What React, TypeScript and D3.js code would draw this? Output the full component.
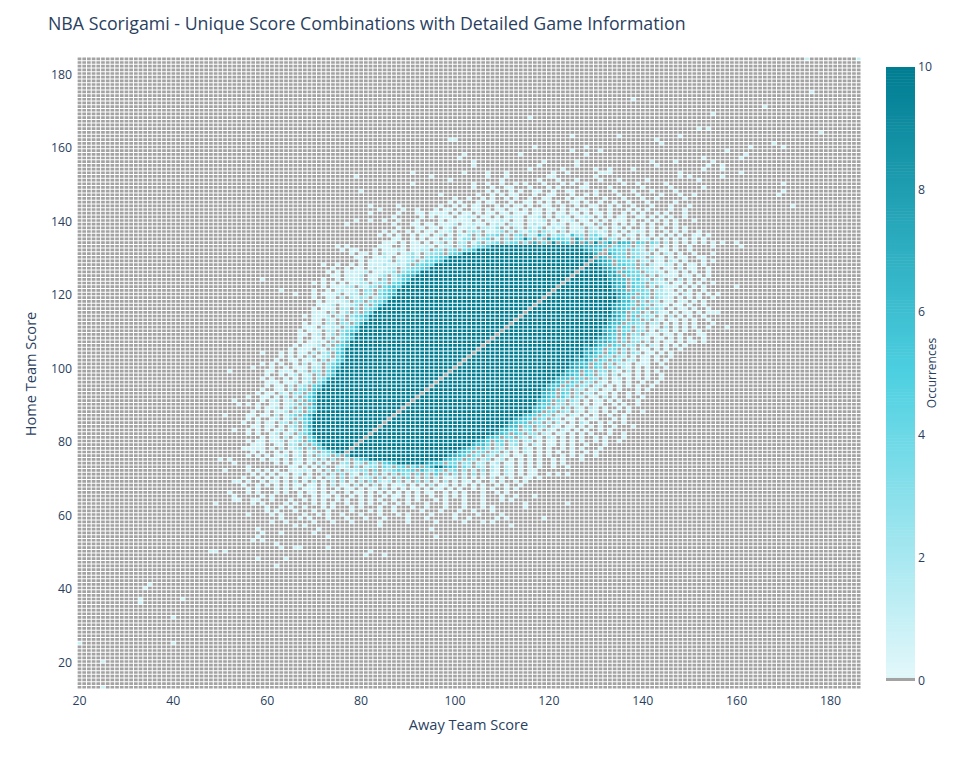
import React from "react";
import * as d3 from "d3";

const chartTitle = "NBA Scorigami - Unique Score Combinations with Detailed Game Information";
const xTitle = "Away Team Score";
const yTitle = "Home Team Score";
const barTitle = "Occurrences";
const xTicks = [20, 40, 60, 80, 100, 120, 140, 160, 180];
const yTicks = [20, 40, 60, 80, 100, 120, 140, 160, 180];
const barTicks = [0, 2, 4, 6, 8, 10];
const awayMin = 20, awayMax = 186, homeMin = 13, homeMax = 184;
const maxCount = 10;

// Single games far from the main cloud: [home score, away scores]
const sparseRows: [number, number[]][] = [
  [184, [175, 186]], [175, [176]], [173, [138]], [171, [166]], [169, [155]], [168, [116]], [165, [152, 154]], [164, [178]],
  [163, [125, 135, 148]], [162, [99, 100, 143]], [161, [144, 168]], [160, [117, 128, 163, 170]], [159, [125, 131, 158]],
  [158, [102, 114, 128, 162]], [157, [101, 153, 161]], [156, [104, 119, 126, 142, 147, 155]], [155, [104, 118, 126, 143, 154, 157]],
  [154, [116, 123, 130, 133, 138, 153, 157]], [153, [91, 102, 107, 111, 121, 124, 131, 132, 133, 148, 161]],
  [152, [79, 95, 107, 111, 120, 121, 130, 148, 150, 157]], [151, [99, 110, 118, 122, 126, 131, 135, 141, 152]],
  [150, [91, 104, 107, 110, 113, 115, 119, 123, 125, 128, 136, 139, 145, 170]],
  [149, [104, 108, 111, 112, 116, 120, 122, 127, 128, 133, 140, 146, 153]],
  [148, [80, 107, 109, 112, 114, 117, 118, 121, 124, 125, 130, 134, 138, 142, 147, 170]],
  [147, [97, 105, 108, 110, 112, 113, 117, 120, 121, 125, 128, 130, 135, 139, 144, 148, 151, 169]],
  [146, [100, 103, 106, 108, 111, 113, 116, 119, 120, 124, 126, 127, 132, 136, 140, 143, 149]],
  [145, [99, 101, 105, 107, 108, 112, 115, 116, 118, 120, 122, 125, 126, 128, 131, 134, 137, 141, 145, 147]],
  [144, [82, 88, 97, 100, 102, 104, 105, 109, 111, 113, 114, 116, 119, 120, 123, 126, 129, 130, 133, 135, 138, 142, 146, 150, 172]],
  [133, [150, 155, 161]], [131, [155]], [130, [153]], [129, [155]], [128, [151]], [127, [151]],
  [124, [59]], [123, [70]], [122, [160]], [121, [63, 153]], [120, [66, 156]], [118, [153]], [115, [155, 156]], [111, [154, 158]],
  [109, [153]], [107, [151]], [104, [59, 65]], [103, [63]], [101, [59, 61]], [100, [57]], [99, [52, 60, 63, 64]],
  [97, [61]], [96, [61]], [91, [53]], [90, [54]], [87, [51, 56]], [85, [55]], [84, [57, 58]], [83, [53, 56]],
  [80, [58]], [79, [58]], [78, [56, 58]], [75, [50, 52]], [74, [53]], [73, [56]], [72, [51]], [69, [53]], [68, [58]],
  [64, [53, 54, 58]], [63, [49]],
  [57, [66, 68, 84, 112]], [56, [58, 71, 95]], [55, [59, 63, 70]], [54, [58, 73, 96]], [53, [57, 59]], [52, [52, 62]],
  [51, [63, 66, 67, 73]], [50, [48, 49, 51, 82]], [49, [81, 85]], [48, [58, 64]], [46, [62]], [41, [35]], [40, [34]],
  [37, [33, 42]], [36, [33]], [32, [40]], [25, [20, 40]], [20, [25]], [13, [25]],
];

// Rows above and below the dense block: [home score, first away score, counts]
const openRows: [number, number, string][] = [
  [143, 84, "1....1..1...1.11.1..11.1.11.11.1.11.11.1.1.11.1..1...1.1.1....1..1"],
  [142, 82, "1.....1...11.1111.1.11.1.11.11.111.11.1.11.11.1.11.1..1.1.1..1.1...1"],
  [141, 87, "1.....1.1.111.1121.11.1.1211.112.1.121.1121.1.1.11..11.1.1.1..1"],
  [140, 79, "1..1..1..1...1....1.11111.1.11121.11.1112.1.112.11.1.1.111.1..1.1.1.1...1"],
  [139, 77, "1.........1...11.11.1112.11211.121.211.1211.121.11.11.2..1.1.1.1.1..1.1"],
  [138, 88, "1...11.11.12.1121.2213.1.21.213.1212.112.21.1.12.11.1.1.1..1.1"],
  [137, 85, "1.1..1.1.11.112.1.232.1123.2.2132.321.2.121.2212.1.1.121.1..1.1.1..1"],
  [136, 84, "1.1.1..1.11.12.1.213.2.334.2.34.2273.2331633.3421.21.21.1.1.1.1.1..11.1"],
  [135, 87, "11..1.1.11.22.133.234.1.3.3494.3.84543.84.437.3221.1.12.1.1.1.1.1.1"],
  [134, 85, "111.1.11.1.12.1.22.13.234.344.3.7.4.9.65.8.7.9.58.766.54.43.2.1.1.1.1.1.1..1"],
  [72, 56, "1.1.1.1..11121.122.3.22233.4.3345445.64354.34.3.2.3.21.21.1.11"],
  [71, 57, "1.1.1.11.12.1.12.2.3.21.3.3.2.3.43.4.3.5.3.3.2.3.2.11.21.1.11..1.1.1"],
  [70, 55, "1..1.1.1.1.1.12.1.22.3.2.223.3.2.3.4.2.3.2.112.2.1.1.2.1.1..11.1."],
  [69, 54, "1.1..1.11.1.2.112.1.2.2.1.2.3.212.2.1.3.2.1.2.1.11.1..1.1..1.1..."],
  [68, 55, "1....1.1.1.11.11.1.2.11.2.1.2.1.112.1.1.2.11.1.1.1.1..1.1..1"],
  [67, 56, "1.1...1.1.1.111.1..1.11.1.11.2.1.1.11.1.11.1.1..1.1.1..1.1"],
  [66, 52, "1...1.1...1.1.11.11.1.1..1.11.1.1.1.1.1.1.11..1.1.1...1..1.1."],
  [65, 53, "1.....1.1...1.1..1.11.1..1.1.1..1.11.1.1..1..1.1.1...1...1..1...1"],
  [64, 53, "11..1...1...1..1.1.1..1.1..1.1.1..1..1.1...1.1...1...1...1.1"],
  [63, 49, "1.......1.1....1.1...1.1.1..1..1.1..1..1.1...1...1...1...1........1........1"],
  [62, 60, "1..1.1..1...1.1...1.1...1..1...1..1...1...1...1.1......1"],
  [61, 60, "1.1...1...1..1....1...1.1..1.....1...1...1..1...1"],
  [60, 56, "1....1.1....1..1.1..1...1...1...1.1....1....1....1....1"],
  [59, 63, "1...1.1...1...1...1...1....1...1.....1..1.....1.1.......1"],
  [58, 61, "1..1.....1...1...1.....1.....1.....1.....1...1.1"],
];

// Rows through the dense block: [home score, first saturated away score, counts left of it, last saturated away score, counts right of it]
const denseRows: [number, number, string, number, string][] = [
  [133, 108, "1.1......111..1.11121.122.23.3456", 126, "877665.4544.32.21.1.1..1"],
  [132, 105, "1.11...1.11121.1122.33.34.456", 127, "8766.5544.432.2.11.1..1"],
  [131, 102, ".1.11.1.211.1231.2334.456", 128, "976.7544.3322.1.21.1..1."],
  [130, 99, "11..1121.11232.34456", 129, "876.544.432.311.1.11..1."],
  [129, 98, "1.11112.2123.24456", 129, "9876.5443.22.11.21.1...1"],
  [128, 96, "1..1..1.1.111211213.4455", 130, "876.5544.3.21121.1.1..1"],
  [127, 95, "1..1.11.121122.234456", 131, "8765.44.3321.11.2.11..1."],
  [126, 93, "1.1.11112.11223.3456", 131, "987.6544.3221.11.1.1..1"],
  [125, 92, ".11.1112.1123.24567", 132, "786.5443.2.2111.11.1.1"],
  [124, 91, "1..1.1112.11.3.2356", 132, "8766.4533.22.1.2.1..1."],
  [123, 90, "1.1.1.1122.233.457", 133, "876.544.3212.11.1.1..1"],
  [122, 89, ".1.11122.2133.4565", 133, "767.544.2.3111.1.1.1."],
  [121, 88, "1..1.12112.33.3456", 133, "876.5443.2211.1.1..1."],
  [120, 88, ".1.1112.122.33.4567", 134, "8765.44.32211.21.1.1"],
  [119, 87, "1..11.2.2132.2346", 134, "765.443.3211.1.1.1..1"],
  [118, 86, "1.11112.33.3446", 134, "8664.3.32.11.11.1.1.."],
  [117, 85, ".1112.1123.3.47", 133, "87654.43.221.11.1..1."],
  [116, 84, "1.111.22.3.345", 133, "8765.44.332.1.11.1..1"],
  [115, 83, ".111.2.13.3.46", 133, "766.44.2.311.1.11.1.1."],
  [114, 82, "1.1112.22.3456", 133, "875.5.332.1.2.1.1..1."],
  [113, 82, ".11.21.3.2346", 132, "8765.54.3.21.11.1.1..1."],
  [112, 81, "1.11.22.33.47", 132, "766.4433.22.1.1.1.1...1"],
  [111, 80, ".111.2122.346", 131, "875.54.32.11.2.1.1.1.."],
  [110, 80, "1.111.22.3456", 131, "766.44.33.1.21.1.1..1."],
  [109, 79, ".11.12.13.357", 131, "865.5.33.211.11.1...1."],
  [108, 79, "1..11.2.2346", 130, "8765.4.3221.11.1.1.1..1."],
  [107, 78, ".1.1121.3.47", 129, "87765.4.33.2.1.11.1.1..1"],
  [106, 78, "1.1112.2.456", 127, "8a865.54.33.2.21.1.1.1.."],
  [105, 77, "1.111.21.346", 126, "a8765.44.3.2.11.1.1..1."],
  [104, 77, "1...11.2.23.56", 126, "a7865.54.3.32.11.1.1.."],
  [103, 77, ".1.1.2.123.47", 125, "8a765.43.32.1.11.1..1."],
  [102, 77, "1..11.112.3.256", 125, "9786.54.43.22.11.1.1.."],
  [101, 76, ".1..1.2.12.346", 124, "8766.54.3.221.111..1."],
  [100, 76, "1..1.111.22.357", 124, "8776.54.43.21.1.1...1"],
  [99, 75, ".1.1.1.12.33.46", 123, "766.54.33.21.2.1.1.1."],
  [98, 75, "1..1.12.12.3.46", 122, "8765.54.32.2.11.1.1..1.."],
  [97, 74, "1.1..1.1.22.347", 121, "766.54.43.2.12.1.1.1..1"],
  [96, 73, ".1.1.112.13.46", 120, "875.54.33.21.11.1..1..1"],
  [95, 72, "1.11.2.23.56", 119, "766.54.33.22.1.1.1.1..1."],
  [94, 72, ".1..11.2.34.67", 118, "876.44.32.12.11.1...1.1."],
  [93, 71, "1.11.21.33.46", 118, "765.54.3.22.11.1..1.1.."],
  [92, 71, "1..11.1.2.2.457", 117, "a765.53.32.11.2.1..1..1"],
  [91, 71, ".1.12.12.3.56", 117, "765.43.32.1.11.1.1...1."],
  [90, 71, "1.1..11.123.4.7", 117, "655.33.22.1.11..1.1..1"],
  [89, 71, ".1.112.13.3.56", 116, "765.43.3.21.21.1..1.1.."],
  [88, 71, "1..1.112.23.46", 115, "a66.44.32.21.11.1.1..1..1"],
  [87, 70, ".1.11.2.134.57", 114, "765.43.21.21.1.1..1..1."],
  [86, 70, "1.1..12.13.356", 112, "8765.43.32.11.1.11...1.1."],
  [85, 70, ".1.11.22.3.46", 111, "7655.43.2.21.1.21..1.1..1"],
  [84, 70, "1..11.1.23.47", 110, "866.44.33.21.11.1.1.1..1...1"],
  [83, 70, ".1.1.12.13.46", 109, "7755.34.2.21.21.1.1..1.1.."],
  [82, 70, "1.1..12.12.346", 108, "865.54.33.21.11.1.1.1...1..1."],
  [81, 71, ".1.11.2.13.47", 106, "765.44.32.21.21.1.1.1..1.1...1"],
  [80, 71, "1..1.112.123.56", 104, "875.54.33.22.1.11.1.1.1..1.1..1."],
  [79, 72, ".1.1..11.22.3.46", 103, "7664.34.23.1.21.11.1.1..1...1."],
  [78, 73, "1.1.1.1.2.123.3.57", 101, "865.53.32.21.21.1.1..1.1.1...1"],
  [77, 75, ".1.1..1.1.12.13.346", 100, "765.44.33.2.1.21.1.1.1..1..1.1."],
  [76, 78, "1.1.1.112.12.2.323.456", 98, "8765.43.32.21.11.1.1.1..1.1.1..1"],
  [75, 82, ".1.11.1.21.12.2.33.2.467", 97, "7654.43.23.12.1.1.1.1..1.1...1"],
  [74, 88, "1.1.11.1.2.12.23.23.43.567", 93, "8765.44.33.22.12.11.1.1.1..1.1"],
  [73, 96, ".11.1.1.21.212.3.233.43.45.46.57", 97, "765.43.32.21.21.1.1.1..1..1"],
];

const levels: number[][] = d3.range(homeMin, homeMax + 1).map(() => d3.range(awayMin, awayMax + 1).map(() => 0));
const setCell = (away: number, home: number, n: number) => {
  if (away < awayMin || away > awayMax || home < homeMin || home > homeMax) return;
  levels[home - homeMin][away - awayMin] = away === home ? 0 : n;
};
const readCount = (c: string) => (c === "." ? 0 : c === "a" ? 10 : +c);
openRows.forEach(([home, x0, s]) => [...s].forEach((c, i) => setCell(x0 + i, home, readCount(c))));
denseRows.forEach(([home, start, left, end, right]) => {
  const leftStart = start - left.length;
  [...left].forEach((c, i) => setCell(leftStart + i, home, readCount(c)));
  d3.range(start, end + 1).forEach((a) => setCell(a, home, maxCount));
  [...right].forEach((c, i) => setCell(end + 1 + i, home, readCount(c)));
});
sparseRows.forEach(([home, aways]) => aways.forEach((a) => setCell(a, home, 1)));

const colorStops: [number, string][] = [[0.1, "#e0f7fa"], [5, "#4dd0e1"], [10, "#007c91"]];
const zeroColor = "#a3a3a3";
const inkColor = "#2a3f5f";
const fontFamily = '"Open Sans", verdana, arial, sans-serif';

const color = d3.scaleLinear<string>().domain(colorStops.map((d) => d[0])).range(colorStops.map((d) => d[1])).clamp(true);
const fill = (n: number) => (n <= 0 ? zeroColor : color(n));

const x = d3.scaleLinear().domain([20, 180]).range([79.5, 830.5]);
const y = d3.scaleLinear().domain([20, 180]).range([661.5, 73.5]);
const barY = d3.scaleLinear().domain([0, 10]).range([680.5, 67]);
const barSteps = d3.range(0, 10, 0.05);

const cellW = Math.abs(x(1) - x(0));
const cellH = Math.abs(y(1) - y(0));
const gap = 1;

const pathsByFill = new Map<string, string[]>();
levels.forEach((row, r) =>
  row.forEach((n, c) => {
    const f = fill(n);
    const left = x(awayMin + c) - cellW / 2 + gap / 2;
    const top = y(homeMin + r) - cellH / 2 + gap / 2;
    const p = `M${left.toFixed(2)} ${top.toFixed(2)}h${(cellW - gap).toFixed(2)}v${(cellH - gap).toFixed(2)}h${(gap - cellW).toFixed(2)}z`;
    if (!pathsByFill.has(f)) pathsByFill.set(f, []);
    pathsByFill.get(f)!.push(p);
  })
);

const textBase = { fontFamily, fill: inkColor };

export default function App() {
  return (
    <svg width={960} height={768} style={{ position: "absolute", left: 0, top: 0, background: "#fff" }}>
      {[...pathsByFill.entries()].map(([f, parts]) => (
        <path key={f} d={parts.join("")} fill={f} />
      ))}
      <text x={48} y={29.5} fontSize={17.75} {...textBase}>{chartTitle}</text>
      {xTicks.map((t) => (
        <text key={t} x={x(t)} y={705} fontSize={12.3} textAnchor="middle" {...textBase}>{t}</text>
      ))}
      {yTicks.map((t) => (
        <text key={t} x={72} y={y(t) + 5} fontSize={12.3} textAnchor="end" {...textBase}>{t}</text>
      ))}
      <text x={468.5} y={730} fontSize={14.6} textAnchor="middle" {...textBase}>{xTitle}</text>
      <text transform="translate(36,374) rotate(-90)" fontSize={14.6} textAnchor="middle" {...textBase}>{yTitle}</text>
      {barSteps.map((v) => (
        <rect key={v} x={886} width={29} y={barY(v + 0.05)} height={Math.abs(barY(v) - barY(v + 0.05)) + 0.5} fill={fill(v === 0 ? 0 : v)} />
      ))}
      {barTicks.map((t) => (
        <text key={t} x={918} y={barY(t) + 4} fontSize={12.3} {...textBase}>{t}</text>
      ))}
      <text transform="translate(936,373) rotate(-90)" fontSize={12} textAnchor="middle" {...textBase}>{barTitle}</text>
    </svg>
  );
}
